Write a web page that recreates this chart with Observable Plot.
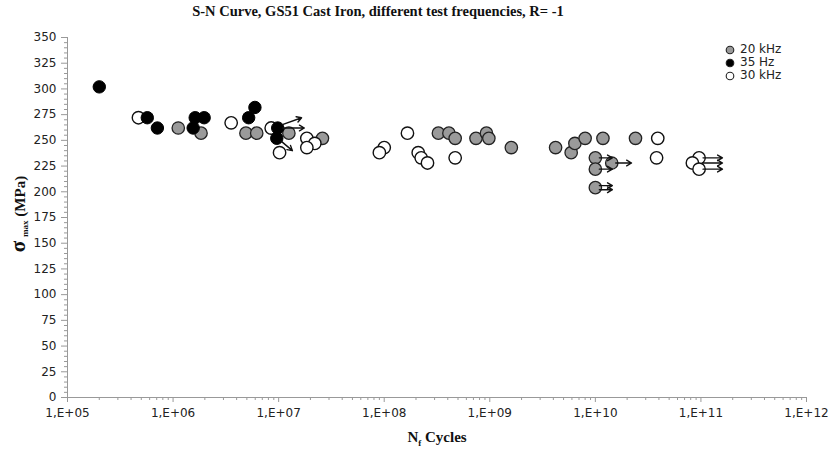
<!DOCTYPE html>
<html><head><meta charset="utf-8">
<script src="https://cdn.jsdelivr.net/npm/d3@7"></script>
<script src="https://cdn.jsdelivr.net/npm/@observablehq/plot@0.6"></script>
<style>
body{margin:0;background:#fff;}
#wrap{position:relative;width:836px;height:452px;overflow:hidden;background:#fff;}
#wrap > svg{position:absolute;left:0;top:0;}
#title{position:absolute;left:378px;top:3px;transform:translateX(-50%);white-space:nowrap;font:bold 14.5px "Liberation Serif",serif;color:#111;}
#ylab{position:absolute;left:18px;top:214px;transform:translate(-50%,-50%) rotate(-90deg);white-space:nowrap;font:bold 15px "Liberation Serif",serif;color:#111;}
#xlab{position:absolute;left:437px;top:438px;transform:translate(-50%,-50%);white-space:nowrap;font:bold 15px "Liberation Serif",serif;color:#111;}
#legend{position:absolute;left:725px;top:43px;font:12px "DejaVu Sans",sans-serif;color:#222;}
#legend div{display:flex;align-items:center;height:13px;line-height:13px;}
#legend svg{margin-right:5px;flex:none;}
</style></head><body>
<div id="wrap">
  <div id="title">S-N Curve, GS51 Cast Iron, different test frequencies, R= -1</div>
  <div id="ylab"><span style="font-size:21px">σ</span> <span style="font-size:9px;vertical-align:-3px">max</span> (MPa)</div>
  <div id="xlab">N<sub style="font-size:9px">f</sub> Cycles</div>
  <div id="legend"></div>
</div>
<script>
// axis ticks
const decades = [1e5, 1e6, 1e7, 1e8, 1e9, 1e10, 1e11, 1e12];
const decadeLabels = ["1,E+05", "1,E+06", "1,E+07", "1,E+08", "1,E+09", "1,E+10", "1,E+11", "1,E+12"];
const yTicks = [0, 25, 50, 75, 100, 125, 150, 175, 200, 225, 250, 275, 300, 325, 350];
const minorMultipliers = [2, 3, 4, 5, 6, 7, 8, 9];
const yMinorStep = 5;

// series: 20 kHz (grey)
const n20kHz = [1.12e6, 1.84e6, 4.9e6, 6.2e6, 1.25e7, 2.6e7, 3.26e8, 4.1e8, 4.7e8, 7.4e8, 9.3e8, 9.8e8, 1.6e9, 4.2e9, 5.9e9, 6.4e9, 8e9, 1.18e10, 2.4e10, 1e10, 1e10, 1.43e10, 1e10];
const s20kHz = [262, 257, 257, 257, 257, 252, 257, 257, 252, 252, 257, 252, 243, 243, 238, 247, 252, 252, 252, 233, 222, 228, 204];
// series: 35 Hz (black)
const n35Hz = [2e5, 5.7e5, 7.1e5, 1.62e6, 1.97e6, 1.55e6, 5.2e6, 5.96e6, 9.8e6, 9.6e6];
const s35Hz = [302, 272, 262, 272, 272, 262, 272, 282, 262, 252];
// series: 30 kHz (open)
const n30kHz = [4.7e5, 3.55e6, 8.5e6, 1.02e7, 1.85e7, 2.2e7, 1.85e7, 1.66e8, 1e8, 9e7, 2.1e8, 2.24e8, 2.57e8, 4.7e8, 3.9e10, 3.8e10, 9.6e10, 8.3e10, 9.6e10];
const s30kHz = [272, 267, 262, 238, 252, 247, 243, 257, 243, 238, 238, 233, 228, 233, 252, 233, 233, 228, 222];
// run-outs (arrows): start and end
const runN1 = [1e7, 1e7, 9.8e6, 1e10, 1e10, 1e10, 1e10, 1.43e10, 9.6e10, 9.6e10, 9.6e10];
const runS1 = [264, 262, 252, 233, 222, 206, 202, 228, 233, 228, 222];
const runN2 = [1.65e7, 1.75e7, 1.35e7, 1.45e10, 1.45e10, 1.45e10, 1.45e10, 2.2e10, 1.6e11, 1.6e11, 1.6e11];
const runS2 = [272, 262, 240, 233, 222, 206, 202, 228, 233, 228, 222];

const seriesNames = ["20 kHz", "35 Hz", "30 kHz"];
const seriesFill = ["#9a9a9a", "#000", "#fff"];

const minorX = decades.slice(0, -1).flatMap(d => minorMultipliers.map(m => d * m));
const minorY = d3.range(0, 351, yMinorStep).filter(v => v % 25 !== 0);
const idx = a => a.map((_, i) => i);

const chart = Plot.plot({
  width: 836, height: 452,
  marginLeft: 67, marginRight: 30, marginTop: 37, marginBottom: 55,
  style: {fontFamily: "DejaVu Sans", fontSize: "12px", color: "#222", background: "transparent"},
  x: {type: "log", domain: [1e5, 1e12]},
  y: {domain: [0, 350]},
  marks: [
    Plot.axisX({ticks: minorX, tickSize: 3, tickFormat: () => "", stroke: "#999", label: null}),
    Plot.axisX({ticks: decades, tickSize: 5, tickPadding: 6, tickFormat: d => decadeLabels[decades.indexOf(d)], stroke: "#999", label: null}),
    Plot.axisY({ticks: minorY, tickSize: 3, tickFormat: () => "", stroke: "#999", label: null}),
    Plot.axisY({ticks: yTicks, tickSize: 6, tickPadding: 5, stroke: "#999", label: null}),
    Plot.ruleY([0], {stroke: "#999"}),
    Plot.ruleX([1e5], {stroke: "#999"}),
    Plot.dot(idx(n20kHz), {x: i => n20kHz[i], y: i => s20kHz[i], r: 6.2, fill: seriesFill[0], stroke: "#222", strokeWidth: 1.3}),
    Plot.dot(idx(n30kHz), {x: i => n30kHz[i], y: i => s30kHz[i], r: 6.2, fill: seriesFill[2], stroke: "#111", strokeWidth: 1.4}),
    Plot.dot(idx(n35Hz), {x: i => n35Hz[i], y: i => s35Hz[i], r: 6.2, fill: seriesFill[1], stroke: "#000", strokeWidth: 1}),
    Plot.arrow(idx(runN1), {x1: i => runN1[i], y1: i => runS1[i], x2: i => runN2[i], y2: i => runS2[i], insetStart: 4, headLength: 6, stroke: "#111", strokeWidth: 1.4})
  ]
});
document.getElementById("wrap").prepend(chart);

const leg = document.getElementById("legend");
seriesNames.forEach((name, i) => {
  const row = document.createElement("div");
  row.innerHTML = `<svg width="10" height="10"><circle cx="5" cy="5" r="3.8" fill="${seriesFill[i]}" stroke="#222" stroke-width="1.1"/></svg><span>${name}</span>`;
  leg.appendChild(row);
});
</script>
</body></html>
